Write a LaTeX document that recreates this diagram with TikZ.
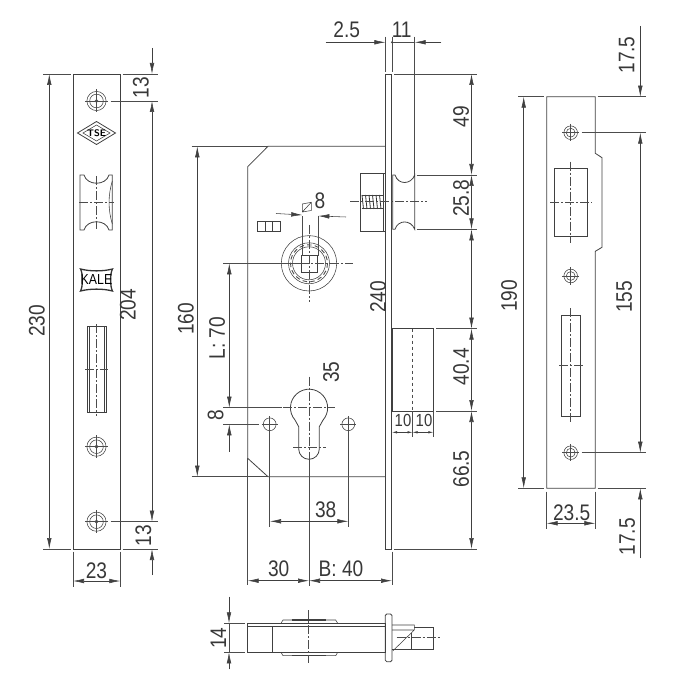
\documentclass[tikz,border=0pt]{standalone}
\usepackage{fontspec}
\usetikzlibrary{arrows.meta}
\newfontfamily\dimfont[FakeStretch=0.85]{Liberation Sans}
\tikzset{
    part/.style={line width=0.8pt,draw=black!75},
    thin part/.style={line width=0.55pt,draw=black!75},
    centre/.style={line width=0.55pt,draw=black!70,dash pattern=on 9pt off 2pt on 2pt off 2pt},
    ext/.style={line width=0.55pt,draw=black!70},
    dim/.style={line width=0.55pt,draw=black!75,>={Latex[length=11pt,width=4.6pt]}},
    small dim/.style={line width=0.5pt,draw=black!75,>={Latex[length=5pt,width=2.4pt]}},
    lab/.style={font=\dimfont\fontsize{22.5}{22.5}\selectfont,text=black!78,inner sep=0pt},
    up lab/.style={lab,rotate=90},
    small lab/.style={font=\dimfont\fontsize{17.5}{17.5}\selectfont,text=black!78,inner sep=0pt},
}
\begin{document}
\begin{tikzpicture}[x=1pt,y=-1pt]
    \useasboundingbox (0,0) rectangle (700,700);

    % left face plate
    \draw [part] (73,74) rectangle (120.3,549);
    \foreach \hy/\name in {101/holeA,446.7/holeB,521.7/holeC} {
        \draw [thin part] (96.5,\hy) circle (9.6) circle (6.8) circle (1.6);
        \draw [ext] (85,\hy) -- (108,\hy);
        \draw [ext] (96.5,\hy-11.5) -- (96.5,\hy+11.5);
    }
    \draw [part] (77.5,133) -- (96.5,121.5) -- (115.5,133) -- (96.5,144.5) -- cycle;
    \draw [thin part] (83,133) -- (96.5,125) -- (110,133) -- (96.5,141) -- cycle;
    \node [font=\fontfamily{lmss}\bfseries\fontsize{9.5}{9.5}\selectfont,inner sep=0pt] (tse) at (96.5,133) {TSE};
    \draw [part] (80,175) -- (84,175) .. controls (87,186) and (106,186) .. (109,175) -- (112.3,175)
        -- (112.3,230) -- (109,230) .. controls (106,219) and (87,219) .. (84,230) -- (80,230) -- cycle;
    \draw [thin part] (112.3,181) .. controls (108,195) and (108,210) .. (112.3,224);
    \draw [centre] (96.5,176) -- (96.5,229);
    \draw [centre] (79,202.5) -- (114,202.5);
    \draw [line width=1.3pt,black!80] (80.5,269) .. controls (83,273) and (83,287) .. (80.5,291)
        .. controls (90,288.5) and (103,288.5) .. (112.5,291)
        .. controls (110,287) and (110,273) .. (112.5,269)
        .. controls (103,271.5) and (90,271.5) .. (80.5,269) -- cycle;
    \node [font=\dimfont\fontsize{14.5}{14.5}\selectfont,inner sep=0pt] (kale) at (96.5,280) {KALE};
    \draw [part] (87.7,326.7) rectangle (106,412);
    \draw [thin part] (89.2,326.7) -- (89.2,412) (104.5,326.7) -- (104.5,412);
    \draw [centre] (96.5,324) -- (96.5,416);
    \draw [centre] (85,369.7) -- (108,369.7);

    % left plate dimensions
    \draw [ext] (43,74) -- (71,74) (43,549) -- (71,549);
    \draw [dim,<->] (49.3,74) -- (49.3,549);
    \node [up lab] (lab230) at (37,321) {230};
    \draw [ext] (122.7,74) -- (157.7,74) (110.7,101) -- (157.7,101);
    \draw [ext] (110.7,521.7) -- (157.7,521.7) (122.7,549) -- (157.7,549);
    \draw [dim,->] (152,48) -- (152,74);
    \draw [dim,<->] (152,101) -- (152,521.7);
    \draw [dim,->] (152,575) -- (152,549);
    \node [up lab] (lab13a) at (141,88) {13};
    \node [up lab] (lab204) at (128,305) {204};
    \node [up lab] (lab13b) at (143.5,535.5) {13};
    \draw [ext] (73,551.5) -- (73,586.5) (120.3,551.5) -- (120.3,586.5);
    \draw [dim,<->] (73,581) -- (120.3,581);
    \node [lab] (lab23) at (96.5,570.5) {23};

    % lock case
    \draw [part] (385.5,146.3) -- (268,146.3) -- (247.7,166.7) -- (247.7,458.3) -- (268,476.7) -- (385.5,476.7);
    \draw [part] (385.5,74) rectangle (391.8,549);
    \draw [ext] (191.7,146.3) -- (268,146.3) (191.7,476.7) -- (268,476.7);
    \draw [dim,<->] (197.3,146.3) -- (197.3,476.7);
    \node [up lab] (lab160) at (186,319) {160};
    \node [up lab] (lab240) at (378,297) {240};

    % spindle hub
    \draw [thin part] (309,263.3) circle (27.7) circle (20.5) circle (16.5);
    \foreach \a in {0,24,...,336}
        \draw [line width=0.9pt,black!70] ({309+18.5*cos(\a)},{263.3+18.5*sin(\a)}) arc [start angle=\a,end angle=\a+14,radius=18.5];
    \draw [part] (301,255) rectangle (317.7,272.3);
    \draw [centre] (309,225) -- (309,301.7);
    \draw [ext] (223.3,263.3) -- (300,263.3);
    \draw [centre] (300,263.3) -- (352.7,263.3);
    \draw [ext] (302.3,216) -- (302.3,256) (318.3,216) -- (318.3,256);
    \draw [dim,->] (276,213.5) -- (302.3,215);
    \draw [dim,->] (346,217) -- (318.3,216);
    \draw [thin part] (302.3,204) -- (311.3,202.3) -- (311.3,210.5) -- (302.3,212) -- cycle (302.3,212) -- (311.3,202.3);
    \node [lab] (lab8a) at (320,201) {8};
    \draw [thin part] (257.3,221.3) rectangle (280,231) (265,221.3) -- (265,231) (272.7,221.3) -- (272.7,231);

    % spring and roller latch
    \draw [part] (360.7,173.7) rectangle (385.5,231);
    \draw [thin part] (383,173.7) -- (383,231);
    \foreach \sx in {362,365.5,...,382}
        \draw [line width=0.8pt,black!80] (\sx,195) -- (\sx+1.5,209);
    \draw [thin part] (361.7,195.5) -- (383,195.5) (361.7,208.5) -- (383,208.5);
    \draw [centre] (350,201.7) -- (427.3,201.7);
    \draw [part] (392.7,175) -- (395,175) .. controls (398,185) and (411,185) .. (414.7,175)
        -- (414.7,229.3) .. controls (411,219.5) and (398,219.5) .. (395,229.3) -- (392.7,229.3) -- cycle;

    % latch top dimensions
    \draw [ext] (385.4,36.7) -- (385.4,72.5) (391.8,36.7) -- (391.8,72.5) (414.7,36.7) -- (414.7,175);
    \draw [dim,->] (325.7,42.3) -- (385.4,42.3);
    \draw [dim,->] (441.3,42.3) -- (414.7,42.3);
    \draw [ext] (391.8,42.3) -- (414.7,42.3);
    \fill [black!75] (391.8,42.3) circle (1);
    \node [lab] (lab25) at (346.7,30) {2.5};
    \node [lab] (lab11) at (401.7,30) {11};

    % dead bolt
    \draw [part] (392,328.7) rectangle (433.3,411);
    \draw [ext,dashed] (412.5,328.7) -- (412.5,411);
    \draw [ext] (412.5,411) -- (412.5,437) (433.3,411) -- (433.3,437);
    \draw [small dim,<->] (392,432.3) -- (412.5,432.3);
    \draw [small dim,<->] (412.5,432.3) -- (433.3,432.3);
    \node [small lab] (lab10a) at (403,420.3) {10};
    \node [small lab] (lab10b) at (424,420.3) {10};

    % right column of dimensions
    \draw [ext] (394,74) -- (476.7,74) (416.7,175) -- (476.7,175) (416.7,229.3) -- (476.7,229.3);
    \draw [ext] (436,328.7) -- (476.7,328.7) (436,411) -- (476.7,411) (394,549) -- (476.7,549);
    \draw [dim,<->] (471.5,74) -- (471.5,175);
    \draw [dim,<->] (471.5,175) -- (471.5,229.3);
    \draw [dim,<->] (471.5,229.3) -- (471.5,328.7);
    \draw [dim,<->] (471.5,328.7) -- (471.5,411);
    \draw [dim,<->] (471.5,411) -- (471.5,549);
    \node [up lab] (lab49) at (461,116.7) {49};
    \node [up lab] (lab258) at (461,198.3) {25.8};
    \node [up lab] (lab404) at (461,366.7) {40.4};
    \node [up lab] (lab665) at (461,469) {66.5};

    % cylinder keyhole
    \draw [part] (295,420) arc [start angle=139,end angle=401,radius=18.6]
        -- (319.3,426.7) -- (319.3,449) arc [start angle=0,end angle=180,radius=10.3]
        -- (298.7,426.7) -- cycle;
    \draw [centre] (283,407.7) -- (335,407.7);
    \draw [centre] (293.3,447.7) -- (326,447.7);
    \draw [centre] (309,376.7) -- (309,459);
    \draw [ext] (309,459) -- (309,586);
    \foreach \kx/\name in {269.7/keyholeL,348.3/keyholeR} {
        \draw [thin part] (\kx,424.3) circle (6.4);
        \draw [ext] (\kx-8,424.3) -- (\kx+8,424.3);
        \draw [ext] (\kx,416) -- (\kx,526.7);
    }
    \draw [ext] (223.3,407.7) -- (281.7,407.7) (223.3,424.3) -- (259.3,424.3);
    \draw [dim,<->] (229.3,263.3) -- (229.3,407.7);
    \draw [dim,->] (229.3,451.7) -- (229.3,424.3);
    \node [up lab] (labL) at (217,338) {L: 70};
    \node [up lab] (lab8b) at (215.7,415.3) {8};
    \node [up lab] (lab35) at (331,372.3) {35};
    \draw [dim,<->] (270,521.3) -- (348.3,521.3);
    \node [lab] (lab38) at (325.7,510) {38};

    % backset dimensions
    \draw [ext] (247.7,458.3) -- (247.7,585.3) (392,551.5) -- (392,585.3);
    \draw [dim,<->] (247.7,580.7) -- (309,580.7);
    \draw [dim,<->] (309,580.7) -- (392,580.7);
    \node [lab] (lab30) at (278.7,568.3) {30};
    \node [lab] (labB) at (341,568.3) {B: 40};

    % bottom view
    \draw [part] (247.3,623.3) rectangle (385.3,652.3);
    \draw [thin part] (247.3,626) -- (385.3,626) (272.7,626) -- (272.7,652.3);
    \draw [thin part] (281,623.3) -- (283,620) -- (335.7,620) -- (337.7,623.3);
    \draw [thin part] (281,652.3) -- (283,655.7) -- (335.7,655.7) -- (337.7,652.3);
    \draw [line width=1.3pt,black!75] (291.7,620) -- (326,620) (291.7,655.7) -- (326,655.7);
    \draw [centre] (308.7,610) -- (308.7,663.3);
    \draw [part,rounded corners=1.5pt] (385.3,614) rectangle (392,661.7);
    \draw [thin part] (392,625) -- (414.3,625) -- (414.3,630) -- (392.7,651) (392,630) -- (414.3,630);
    \draw [thin part] (414.3,627.3) -- (433.3,627.3) -- (433.3,649.3) -- (392,649.3) (411.7,632.5) -- (411.7,649.3);
    \draw [centre] (396.7,637.3) -- (440,637.3);
    \draw [ext] (224.3,623.3) -- (245,623.3) (224.3,652.3) -- (245,652.3);
    \draw [dim,->] (229,596.7) -- (229,623.3);
    \draw [ext] (229,623.3) -- (229,652.3);
    \draw [dim,->] (229,669.3) -- (229,652.3);
    \node [up lab] (lab14) at (218.3,638.3) {14};

    % strike plate
    \draw [part] (546.7,96.7) -- (595.3,96.7) -- (595.3,153.3) -- (602,157.7) -- (602,247.3) -- (595.3,251.3) -- (595.3,488.3) -- (546.7,488.3) -- cycle;
    \foreach \hy/\name in {132.7/strikeA,276/strikeB,452.7/strikeC} {
        \draw [thin part] (570.7,\hy) circle (6.8) circle (4.4);
        \draw [ext] (562,\hy) -- (579.4,\hy);
        \draw [ext] (570.7,\hy-8.7) -- (570.7,\hy+8.7);
    }
    \draw [thin part] (554.3,168.3) rectangle (587.7,236.7);
    \draw [centre] (570.7,161.7) -- (570.7,243.3);
    \draw [centre] (550,202.7) -- (591.7,202.7);
    \draw [thin part] (561,315) rectangle (580.7,416.7);
    \draw [centre] (570.7,308.3) -- (570.7,423.3);
    \draw [centre] (559.3,365.7) -- (582.7,365.7);

    % strike plate dimensions
    \draw [ext] (518.3,96.7) -- (544,96.7) (518.3,488.3) -- (544,488.3);
    \draw [dim,<->] (523.7,96.7) -- (523.7,488.3);
    \node [up lab] (lab190) at (509,296) {190};
    \draw [ext] (597.7,96.7) -- (646,96.7) (581.7,132.7) -- (646,132.7);
    \draw [ext] (581.7,452.7) -- (646,452.7) (597.7,488.3) -- (646,488.3);
    \draw [dim,->] (640.3,26) -- (640.3,96.7);
    \draw [dim,<->] (640.3,132.7) -- (640.3,452.7);
    \draw [dim,->] (640.3,558.3) -- (640.3,488.3);
    \node [up lab] (lab175a) at (626.7,55) {17.5};
    \node [up lab] (lab155) at (624.3,297) {155};
    \node [up lab] (lab175b) at (627.3,536.7) {17.5};
    \draw [ext] (546.7,491.7) -- (546.7,529.3) (595.3,491.7) -- (595.3,529.3);
    \draw [dim,<->] (546.7,523.3) -- (595.3,523.3);
    \node [lab] (lab235) at (571.7,512.3) {23.5};
\end{tikzpicture}
\end{document}
